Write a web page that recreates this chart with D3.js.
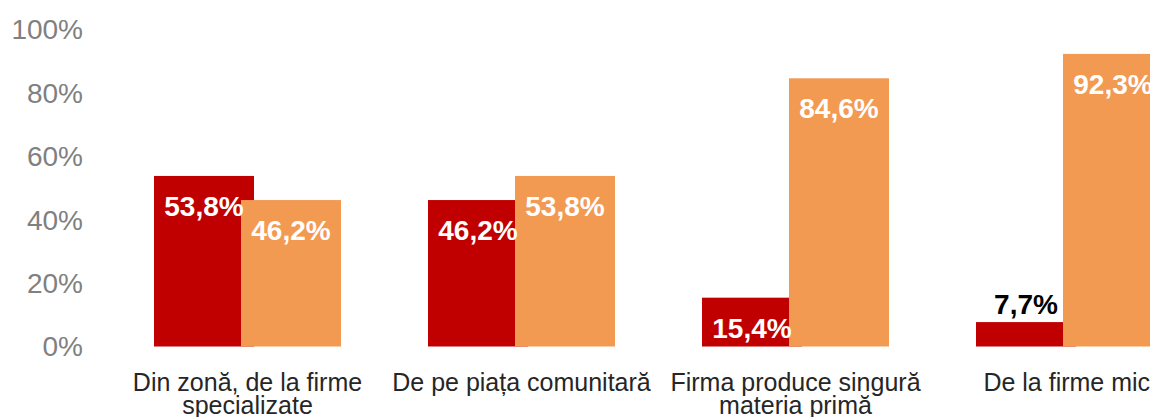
<!DOCTYPE html>
<html>
<head>
<meta charset="utf-8">
<script src="https://cdn.jsdelivr.net/npm/d3@7"></script>
<style>
  body { margin: 0; background: #fff; overflow: hidden; }
  text { font-family: "Liberation Sans", Arial, sans-serif; }
</style>
</head>
<body>
<div id="viz"></div>
<script>
// categories, one line per array entry
const categories = [
  ["Din zonă, de la firme", "specializate"],
  ["De pe piața comunitară"],
  ["Firma produce singură", "materia primă"],
  ["De la firme mici"]
]
const series = ["a", "b"]
const valuesA = [53.8, 46.2, 15.4, 7.7]
const valuesB = [46.2, 53.8, 84.6, 92.3]
const yTicks = [0, 20, 40, 60, 80, 100]

const width = 1150
const height = 417
const colors = {a: "#c00000", b: "#f39a52"}

const svg = d3.select("#viz").append("svg")
  .attr("width", width)
  .attr("height", height)

const keys = categories.map(c => c.join(" "))

const xScale = d3.scaleBand()
  .domain(keys)
  .range([110.5, 110.5 + 4 * 274])

// bars overlap a little, second one drawn on top
const barW = 100
const xSub = d3.scalePoint()
  .domain(series)
  .range([0, 87])

const yScale = d3.scaleLinear()
  .domain([0, 100])
  .range([346.5, 29.5])

// y tick labels
svg.append("g")
  .selectAll("text")
  .data(yTicks)
  .join("text")
  .attr("x", 83)
  .attr("y", d => yScale(d))
  .attr("dy", "0.35em")
  .attr("text-anchor", "end")
  .attr("font-size", "28px")
  .attr("fill", "#808080")
  .text(d => d + "%")

const rows = []
series.forEach(s => {
  const vals = s === "a" ? valuesA : valuesB
  keys.forEach((k, i) => rows.push({key: k, s: s, value: vals[i]}))
})

const x0 = k => xScale(k) + xScale.bandwidth() / 2 - (87 + barW) / 2

svg.append("g")
  .selectAll("rect")
  .data(rows)
  .join("rect")
  .attr("x", d => x0(d.key) + xSub(d.s))
  .attr("y", d => yScale(d.value))
  .attr("width", barW)
  .attr("height", d => yScale(0) - yScale(d.value))
  .attr("fill", d => colors[d.s])

// value labels, inside the top unless the bar is too short
svg.append("g")
  .selectAll("text")
  .data(rows)
  .join("text")
  .attr("x", d => x0(d.key) + xSub(d.s) + barW / 2)
  .attr("y", d => d.value < 10 ? yScale(d.value) - 8 : yScale(d.value) + 40)
  .attr("text-anchor", "middle")
  .attr("font-size", "28px")
  .attr("font-weight", "bold")
  .attr("fill", d => d.value < 10 ? "#000" : "#fff")
  .text(d => d.value.toFixed(1).replace(".", ",") + "%")

// category labels
const lab = svg.append("g")
  .selectAll("text")
  .data(categories)
  .join("text")
  .attr("x", (d, i) => xScale(keys[i]) + xScale.bandwidth() / 2)
  .attr("y", 391)
  .attr("text-anchor", "middle")
  .attr("font-size", "25px")
  .attr("fill", "#262626")

lab.selectAll("tspan")
  .data(d => d)
  .join("tspan")
  .attr("x", function () { return d3.select(this.parentNode).attr("x") })
  .attr("dy", (d, i) => i === 0 ? 0 : 23)
  .text(d => d)
</script>
</body>
</html>
